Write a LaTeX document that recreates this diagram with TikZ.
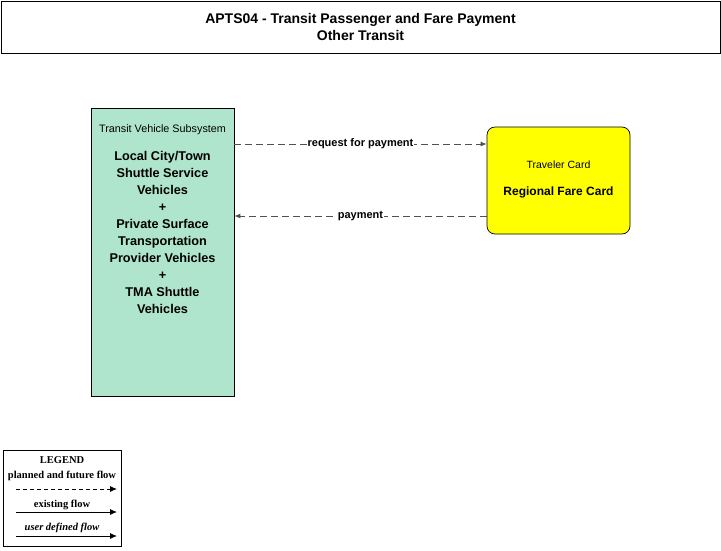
\documentclass[tikz,border=0pt]{standalone}
\usepackage{fontspec}
\setmainfont{Liberation Sans}
\newfontfamily\legendfont{Liberation Serif}
\usepackage{xcolor}
\usepackage{tikz}

\definecolor{tvsgreen}{RGB}{174,229,204}
\definecolor{cardyellow}{RGB}{255,255,0}
\definecolor{flowgray}{RGB}{80,80,80}

\tikzset{
  flow/.style={draw=flowgray, dashed, dash pattern=on 7pt off 4pt, line width=0.9pt, -{Latex[length=6pt,width=5pt]}},
  flowlabel/.style={fill=white, inner sep=0.5pt, font=\fontsize{11}{13}\selectfont\bfseries},
  legarrow/.style={line width=0.9pt, -{Latex[length=7pt,width=6pt]}},
  legtext/.style={font=\legendfont\fontsize{10.5}{12}\selectfont\bfseries, inner sep=0pt}
}
\usetikzlibrary{arrows.meta}

\begin{document}
\begin{tikzpicture}[x=1pt,y=-1pt]
		\useasboundingbox (0,0) rectangle (721,550);
		% title
		\node[draw, line width=0.7pt, minimum width=719pt, minimum height=52pt, align=center,
		  font=\fontsize{14}{17}\selectfont\bfseries] (title) at (360.5,27)
		  {APTS04 - Transit Passenger and Fare Payment\\Other Transit};
		% transit vehicle subsystem
		\node[draw, fill=tvsgreen, line width=0.7pt, minimum width=143pt, minimum height=288pt] (tvs) at (162.5,252) {};
		\node[font=\fontsize{10.8}{12}\selectfont] (tvsname) at (162.5,130) {Transit Vehicle Subsystem};
		\node[align=center, font=\fontsize{12.7}{17}\selectfont\bfseries] (tvsbody) at (162.5,232)
		  {Local City/Town\\Shuttle Service\\Vehicles\\+\\Private Surface\\Transportation\\Provider Vehicles\\+\\TMA Shuttle\\Vehicles};
		% traveler card
		\node[draw, fill=cardyellow, line width=0.7pt, rounded corners=8pt, minimum width=143pt, minimum height=107pt] (card) at (558.5,180.5) {};
		\node[font=\fontsize{10.5}{12}\selectfont] (cardname) at (558.5,165) {Traveler Card};
		\node[font=\fontsize{12}{14}\selectfont\bfseries] (cardbody) at (558.5,192) {Regional Fare Card};
		% flows
		\coordinate (reqy) at (360,144);
		\coordinate (payy) at (360,216);
		\draw[flow] (tvs.east |- reqy) -- (card.west |- reqy) node[flowlabel, pos=0.5] {request for payment};
		\draw[flow] (card.west |- payy) -- (tvs.east |- payy) node[flowlabel, pos=0.5] {payment};
		% legend
		\node[draw, line width=0.7pt, minimum width=118pt, minimum height=96pt] (legend) at (62,498) {};
		\node[legtext] (legtitle) at (62,460) {LEGEND};
		\node[legtext] (legplanned) at (62,476) {planned and future flow};
		\coordinate (lp1) at (16,489);
		\coordinate (lp2) at (117,489);
		\draw[legarrow, dashed, dash pattern=on 4pt off 3pt] (lp1) -- (lp2);
		\node[legtext] (legexist) at (62,505) {existing flow};
		\coordinate (le1) at (16,512);
		\coordinate (le2) at (117,512);
		\draw[legarrow] (le1) -- (le2);
		\node[legtext, font=\legendfont\fontsize{10.5}{12}\selectfont\bfseries\itshape] (leguser) at (62,528) {user defined flow};
		\coordinate (lu1) at (16,536);
		\coordinate (lu2) at (117,536);
		\draw[legarrow] (lu1) -- (lu2);
	\end{tikzpicture}
\end{document}
